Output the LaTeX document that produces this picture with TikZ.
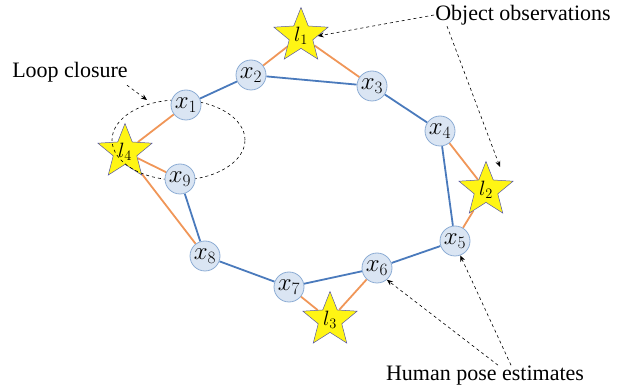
\documentclass[tikz,border=0pt]{standalone}
\usepackage{fontspec}
\setmainfont{Liberation Serif}
\usetikzlibrary{shapes.geometric,arrows.meta}
\definecolor{edgeblue}{RGB}{74,122,188}
\definecolor{edgeorange}{RGB}{240,150,88}
\definecolor{posefill}{RGB}{218,229,243}
\definecolor{poseline}{RGB}{140,172,212}
\definecolor{staryellow}{RGB}{255,245,20}
\pgfdeclarelayer{background}
\pgfsetlayers{background,main}
\begin{document}
\begin{tikzpicture}[x=1pt,y=-1pt,
  pose/.style={circle,draw=poseline,fill=posefill,line width=0.8pt,minimum size=30pt,inner sep=0pt,font=\fontsize{23}{25}\selectfont},
  lmk/.style={star,star points=5,star point ratio=2.3,draw=gray!70!blue,fill=staryellow,line width=0.5pt,minimum size=44pt,inner sep=0pt,font=\fontsize{22}{24}\selectfont},
  odom/.style={draw=edgeblue,line width=1.8pt},
  obs/.style={draw=edgeorange,line width=1.8pt},
  note/.style={font=\fontsize{22}{26}\selectfont,inner sep=1pt},
  pointer/.style={draw=black,dashed,line width=0.6pt,-{Stealth[length=6pt,width=5pt]}}]
\useasboundingbox (0,0) rectangle (622,390);
% landmarks
\node[lmk] (l1) at (301,36) {$l_1$};
\node[lmk] (l2) at (486,190) {$l_2$};
\node[lmk] (l3) at (330,320) {$l_3$};
\node[lmk] (l4) at (125,152) {$l_4$};
% loop closure ellipse
\node[draw=black,dashed,line width=0.6pt,ellipse,minimum width=133pt,minimum height=80pt,inner sep=0pt] (loop) at (178.5,140) {};
% pose nodes
\node[pose] (x1) at (186,105) {$x_1$};
\node[pose] (x2) at (251,75) {$x_2$};
\node[pose] (x3) at (372,86) {$x_3$};
\node[pose] (x4) at (440,131) {$x_4$};
\node[pose] (x5) at (455,241) {$x_5$};
\node[pose] (x6) at (377,268) {$x_6$};
\node[pose] (x7) at (289,287) {$x_7$};
\node[pose] (x8) at (205,256) {$x_8$};
\node[pose] (x9) at (180,179) {$x_9$};
% edges behind nodes
\begin{pgfonlayer}{background}
\path[odom] (x1) -- (x2) (x2) -- (x3) (x3) -- (x4) (x4) -- (x5) (x5) -- (x6) (x6) -- (x7) (x7) -- (x8) (x8) -- (x9);
\path[obs] (l1) -- (x2) (l1) -- (x3) (l2) -- (x4) (l2) -- (x5) (l3) -- (x7) (l3) -- (x6) (l4) -- (x1) (l4) -- (x9) (l4) -- (x8);
\end{pgfonlayer}
% notes
\node[note] (tloop) at (70,72) {Loop closure};
\node[note] (tobj) at (523,15) {Object observations};
\node[note] (thum) at (485,376) {Human pose estimates};
\coordinate (aloop) at (147,100);
\coordinate (al2) at (500,167);
\draw[pointer] (tloop.south east) ++(-2,2) -- (aloop);
\draw[pointer] (tobj.west) -- (l1.east);
\draw[pointer] ([xshift=-76pt]tobj.south) -- (al2);
\draw[pointer] ([xshift=26pt]thum.north) -- (x5.-70);
\draw[pointer] ([xshift=13pt]thum.north) -- (x6.-50);
\end{tikzpicture}
\end{document}
